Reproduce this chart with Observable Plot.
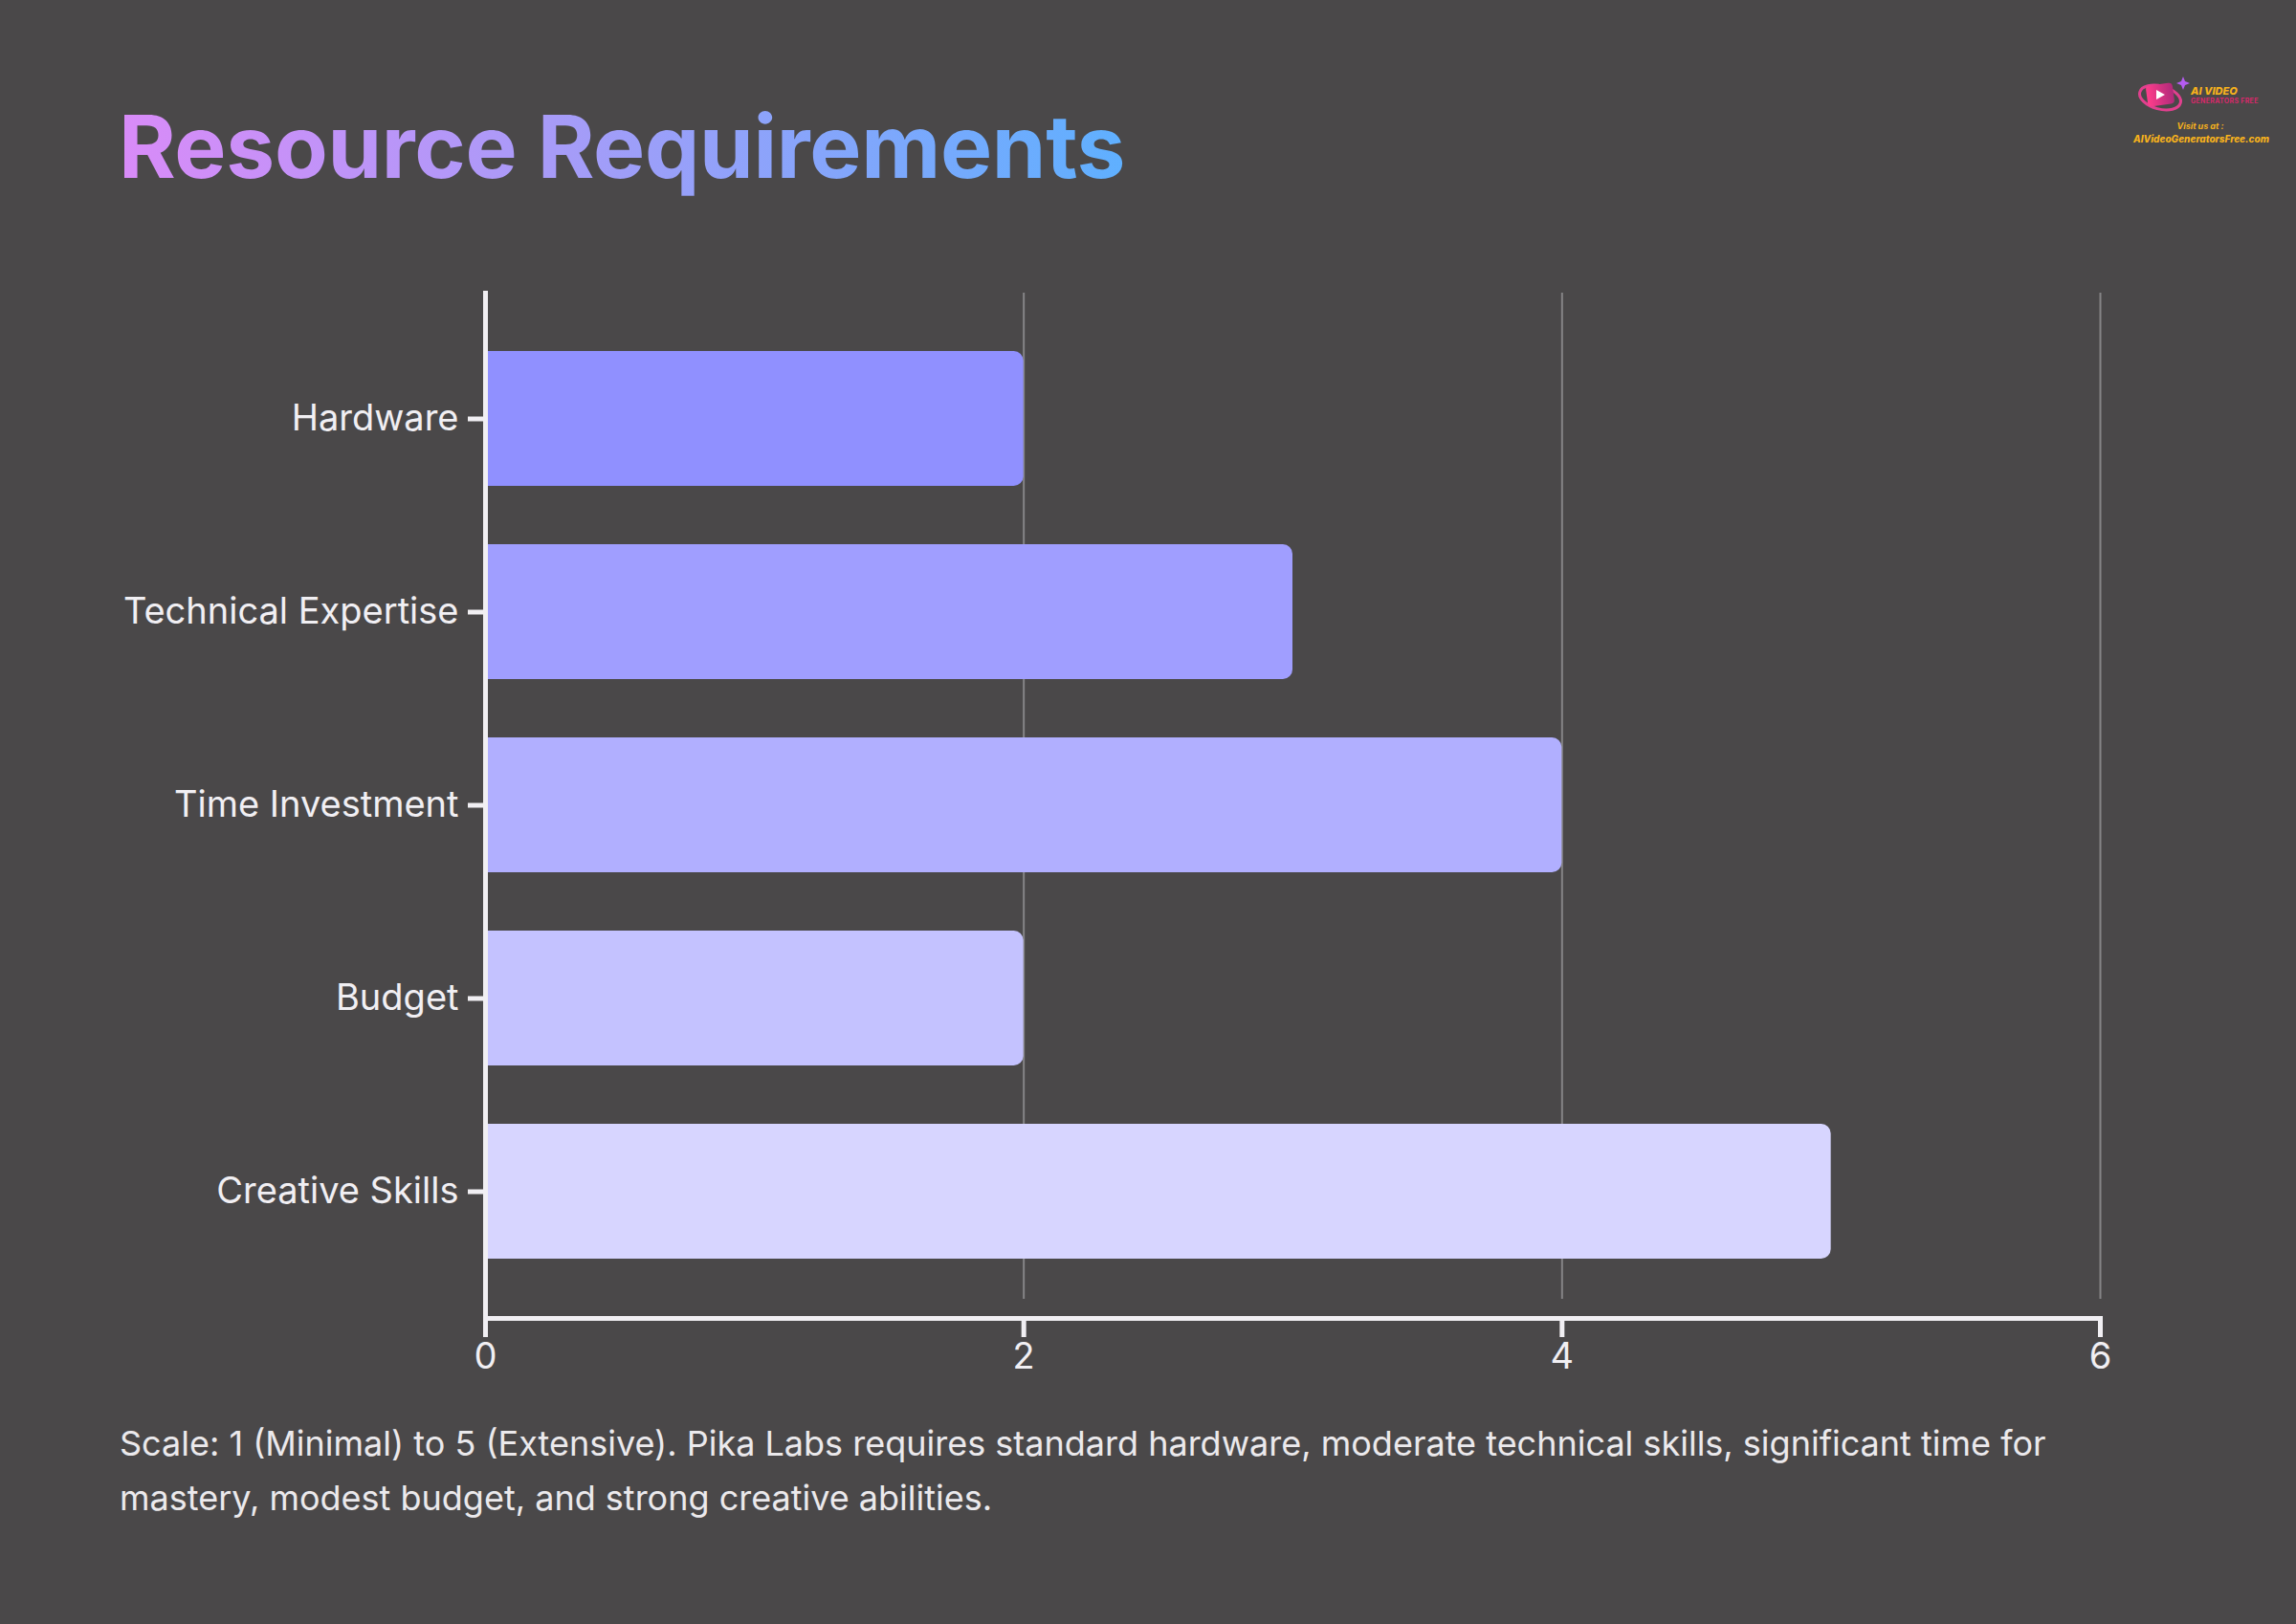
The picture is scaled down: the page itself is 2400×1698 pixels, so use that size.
<!DOCTYPE html>
<html>
<head>
<meta charset="utf-8">
<script src="https://cdn.jsdelivr.net/npm/d3@7"></script>
<script src="https://cdn.jsdelivr.net/npm/@observablehq/plot@0.6"></script>
<style>
  html, body { margin: 0; padding: 0; }
  body { width: 2400px; height: 1698px; background: #4a4849; position: relative; overflow: hidden; font-family: Inter, "Noto Sans", sans-serif; }
  #title { position: absolute; left: 124px; top: 99px; font-size: 91px; font-weight: 700; line-height: 1.2; letter-spacing: -0.3px;
    background: linear-gradient(90deg, #d98bf8 0%, #a59cf8 45%, #5fb0ff 100%); -webkit-background-clip: text; background-clip: text; color: transparent; white-space: nowrap; }
  #chart { position: absolute; left: 0; top: 0; }
  #caption { position: absolute; left: 125px; top: 1481px; width: 2150px; font-size: 36px; line-height: 57px; color: #ebe9ec; }
  #logo { position: absolute; left: 2230px; top: 70px; width: 140px; height: 90px; }
  #logo .t1 { position: absolute; left: 60px; top: 18px; font-size: 11px; font-weight: 800; font-style: italic; color: #f7b21c; white-space: nowrap; }
  #logo .t2 { position: absolute; left: 60px; top: 31px; font-size: 7px; font-weight: 700; color: #d8286a; white-space: nowrap; letter-spacing: 0.3px; }
  #logo .t3 { position: absolute; left: 0; width: 140px; text-align: center; top: 56px; font-size: 9px; font-weight: 700; font-style: italic; color: #f7b21c; white-space: nowrap; }
  #logo .t4 { position: absolute; left: 0; width: 140px; text-align: center; top: 69px; font-size: 10px; font-weight: 800; font-style: italic; color: #f7b21c; white-space: nowrap; }
</style>
</head>
<body>
<div id="title">Resource Requirements</div>
<div id="logo">
  <svg width="60" height="50" style="position:absolute;left:4px;top:6px">
    <defs><linearGradient id="lg" x1="0" x2="1"><stop offset="0" stop-color="#ff3d8b"/><stop offset="1" stop-color="#b02a7a"/></linearGradient></defs>
    <ellipse cx="24" cy="26" rx="22" ry="12" fill="none" stroke="#e0408e" stroke-width="3" transform="rotate(15 24 26)"/>
    <rect x="10" y="12" width="28" height="22" rx="4" fill="url(#lg)" transform="rotate(-8 24 23)"/>
    <path d="M20 18 L29 23 L20 28 Z" fill="#fff"/>
    <path d="M48 4 l2 5 l5 2 l-5 2 l-2 5 l-2 -5 l-5 -2 l5 -2 Z" fill="#b45cf0"/>
  </svg>
  <div class="t1">AI VIDEO</div>
  <div class="t2">GENERATORS FREE</div>
  <div class="t3">Visit us at :</div>
  <div class="t4">AIVideoGeneratorsFree.com</div>
</div>
<div id="chart"></div>
<div id="caption">Scale: 1 (Minimal) to 5 (Extensive). Pika Labs requires standard hardware, moderate technical skills, significant time for mastery, modest budget, and strong creative abilities.</div>
<script>
const categories = ["Hardware", "Technical Expertise", "Time Investment", "Budget", "Creative Skills"];
const values = [2, 3, 4, 2, 5];
const barColors = ["#9090ff", "#a09eff", "#b1afff", "#c4c2ff", "#d7d5ff"];
const xTicks = [0, 2, 4, 6];
const gridTicks = [2, 4, 6];

const data = categories.map((c, i) => ({category: c, value: values[i], color: barColors[i]}));
const axisColor = "#f1eff3";

const chart = Plot.plot({
  width: 2400,
  height: 1698,
  marginTop: 306,
  marginBottom: 320,
  marginLeft: 507,
  marginRight: 205,
  style: {background: "transparent", color: axisColor, fontFamily: "Inter, 'Noto Sans', sans-serif", fontSize: "38px"},
  x: {domain: [0, 6]},
  y: {domain: categories, padding: 0.3},
  marks: [
    Plot.gridX(gridTicks, {stroke: "#858486", strokeOpacity: 1, strokeWidth: 2, insetBottom: 20}),
    Plot.barX(data, {x: "value", y: "category", fill: "color", rx2: 10}),
    Plot.axisX(xTicks, {tickSize: 20, tickPadding: 6, strokeWidth: 5, fontSize: 38, label: null, color: axisColor, tickFormat: d3.format("d")}),
    Plot.axisY({tickSize: 18, tickPadding: 10, strokeWidth: 5, fontSize: 38, label: null, color: axisColor}),
    Plot.frame({anchor: "left", stroke: axisColor, strokeWidth: 5}),
    Plot.frame({anchor: "bottom", stroke: axisColor, strokeWidth: 5})
  ]
});
document.getElementById("chart").appendChild(chart);
</script>
</body>
</html>
